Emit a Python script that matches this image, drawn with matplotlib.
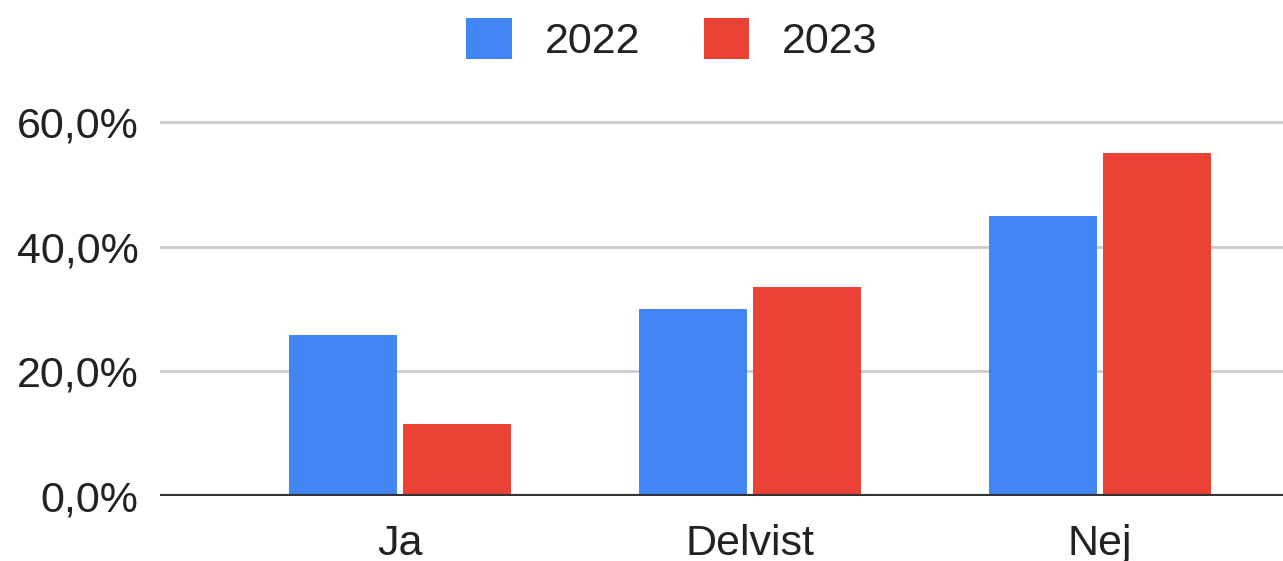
import matplotlib
matplotlib.use("Agg")
import matplotlib.pyplot as plt
import numpy as np
from matplotlib.patches import Patch

# Data
categories = ["Ja", "Delvist", "Nej"]
series_names = ["2022", "2023"]
values_2022 = [25.8, 30.0, 44.9]
values_2023 = [11.6, 33.5, 55.0]
yticks = [0, 20, 40, 60]
ytick_labels = ["0,0%", "20,0%", "40,0%", "60,0%"]

blue = "#4285F4"
red = "#EA4335"

plt.rcParams["font.family"] = ["Liberation Sans", "DejaVu Sans"]

W, H = 1283, 561
fig = plt.figure(figsize=(W / 100, H / 100), dpi=100)
fig.patch.set_facecolor("white")

# axes placement in pixels
x0, x1 = 160, 1283
y_zero, y_sixty = 496, 122
px_per_unit = (y_zero - y_sixty) / 60.0
ytop = 61
top_px = y_zero - ytop * px_per_unit
ax = fig.add_axes([x0 / W, (H - y_zero) / H, (x1 - x0) / W, (y_zero - top_px) / H])

x = np.arange(len(categories))
width = 0.309
offset = 0.164
ax.bar(x - offset, values_2022, width, color=blue, zorder=3)
ax.bar(x + offset, values_2023, width, color=red, zorder=3)

# x range: 350 px per category, first center at x=400 px
spacing = 350.0
ax.set_xlim(-(400 - x0) / spacing, 2 + (x1 - 1100) / spacing)
ax.set_ylim(0, ytop)

ax.set_yticks(yticks)
ax.set_yticklabels(ytick_labels)
ax.set_xticks(x)
ax.set_xticklabels(categories)
ax.tick_params(axis="y", length=0, pad=15.5, labelsize=31, colors="#222222")
ax.tick_params(axis="x", length=0, pad=20, labelsize=31, colors="#222222")

ax.yaxis.grid(True, color="#CCCCCC", linewidth=2, zorder=0)
ax.xaxis.grid(False)
ax.set_axisbelow(True)
ax.axhline(0, color="#333333", linewidth=3, zorder=4)

for s in ["top", "right", "left", "bottom"]:
    ax.spines[s].set_visible(False)

# Legend
handles = [Patch(facecolor=blue, label=series_names[0]),
           Patch(facecolor=red, label=series_names[1])]
fig.legend(handles=handles, loc="center", bbox_to_anchor=(672 / W, 1 - 40 / H),
           ncol=2, frameon=False, fontsize=31, handlelength=1.05, handleheight=1.1,
           handletextpad=0.77, columnspacing=1.47, labelcolor="#222222")

fig.savefig("out.png", dpi=100, facecolor="white")
